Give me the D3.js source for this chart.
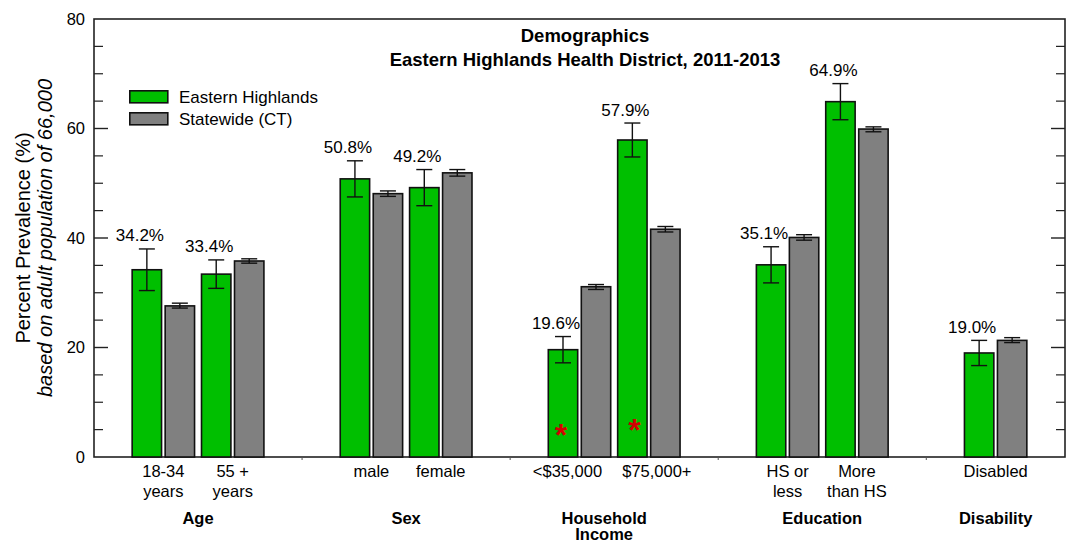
<!DOCTYPE html>
<html>
<head>
<meta charset="utf-8">
<script src="https://cdn.jsdelivr.net/npm/d3@7"></script>
<style>
  body { margin: 0; background: #fff; }
  svg { display: block; font-family: "Liberation Sans", Arial, sans-serif; }
</style>
</head>
<body>
<svg id="chart" width="1068" height="542"></svg>
<script>
// Demographics: Eastern Highlands vs Statewide
const groups = ["Age", "Sex", "Household\nIncome", "Education", "Disability"];
const categories = ["18-34\nyears", "55 +\nyears", "male", "female", "<$35,000", "$75,000+", "HS or\nless", "More\nthan HS", "Disabled"];
const categoryGroup = ["Age", "Age", "Sex", "Sex", "Household\nIncome", "Household\nIncome", "Education", "Education", "Disability"];
const seriesNames = ["Eastern Highlands", "Statewide (CT)"];

const regionValues = [34.2, 33.4, 50.8, 49.2, 19.6, 57.9, 35.1, 64.9, 19.0];
const regionLow    = [30.4, 30.8, 47.5, 45.9, 17.2, 54.8, 31.8, 61.6, 16.7];
const regionHigh   = [38.0, 36.0, 54.1, 52.5, 22.0, 61.0, 38.4, 68.2, 21.3];
const stateValues  = [27.6, 35.8, 48.1, 51.9, 31.1, 41.6, 40.1, 59.9, 21.3];
const stateLow     = [27.2, 35.4, 47.6, 51.3, 30.6, 41.1, 39.6, 59.4, 20.9];
const stateHigh    = [28.1, 36.2, 48.6, 52.5, 31.5, 42.1, 40.6, 60.3, 21.8];
const significant  = [false, false, false, false, true, true, false, false, false];
const yTicks = [0, 20, 40, 60, 80];

const colors = ["#00bf00", "#808080"];

const svg = d3.select("#chart");
const pLeft = 94, pRight = 1065, pTop = 19, pBottom = 457;

// slot domain: categories with an empty slot between groups
const slots = [];
groups.forEach((g, gi) => {
  if (gi > 0) slots.push("gap" + gi);
  categories.forEach((c, i) => { if (categoryGroup[i] === g) slots.push(c); });
});

const x = d3.scaleBand().domain(slots).range([pLeft, pRight]).paddingInner(0).paddingOuter(0.5);
const y = d3.scaleLinear().domain([0, 80]).range([pBottom, pTop]);
const cx = c => x(c) + x.bandwidth() / 2;

// small per-label nudges seen in the original
const labelShift = { "<$35,000": -12, "$75,000+": 8 };
const groupShift = { "Household\nIncome": -10 };
const starLift = [0, 5];

// frame
svg.append("rect")
  .attr("x", pLeft).attr("y", pTop)
  .attr("width", pRight - pLeft).attr("height", pBottom - pTop)
  .attr("fill", "none").attr("stroke", "#222").attr("stroke-width", 1.6);

// y ticks (inward, both sides), minor every 5
const minor = d3.range(5, 80, 5).filter(v => v % 20 !== 0);
[pLeft, pRight].forEach((ax, k) => {
  const dir = k === 0 ? 1 : -1;
  svg.append("g").selectAll("line").data(yTicks.filter(v => v > 0 && v < 80)).enter().append("line")
    .attr("x1", ax).attr("x2", ax + dir * 14)
    .attr("y1", d => y(d)).attr("y2", d => y(d))
    .attr("stroke", "#222").attr("stroke-width", 1.4);
  svg.append("g").selectAll("line").data(minor).enter().append("line")
    .attr("x1", ax).attr("x2", ax + dir * 9)
    .attr("y1", d => y(d)).attr("y2", d => y(d))
    .attr("stroke", "#222").attr("stroke-width", 1.2);
});

svg.append("g").selectAll("text").data(yTicks).enter().append("text")
  .attr("x", pLeft - 9).attr("y", d => y(d))
  .attr("dy", "0.35em")
  .attr("text-anchor", "end")
  .style("font-size", "16.5px")
  .text(d => d);

// small separator ticks on the baseline
svg.append("g").selectAll("line").data(slots.filter(s => s.startsWith("gap"))).enter().append("line")
  .attr("x1", d => cx(d)).attr("x2", d => cx(d))
  .attr("y1", pBottom).attr("y2", pBottom + 3)
  .attr("stroke", "#555").attr("stroke-width", 1);

// y title
const yt = svg.append("g").attr("transform", `translate(0,${(pTop + pBottom) / 2}) rotate(-90)`);
yt.append("text").attr("x", 0).attr("y", 30).attr("text-anchor", "middle")
  .style("font-size", "20px").text("Percent Prevalence (%)");
yt.append("text").attr("x", 0).attr("y", 52).attr("text-anchor", "middle")
  .style("font-size", "20px").style("font-style", "italic")
  .text("based on adult population of 66,000");

// bars
const series = [
  { vals: regionValues, lo: regionLow, hi: regionHigh, off: -32 },
  { vals: stateValues, lo: stateLow, hi: stateHigh, off: 1 }
];
const barW = 31;

series.forEach((s, si) => {
  const g = svg.append("g");
  const rows = categories.map((c, i) => ({ c, v: s.vals[i], lo: s.lo[i], hi: s.hi[i], i }));
  g.selectAll("rect").data(rows).enter().append("rect")
    .attr("x", d => cx(d.c) + s.off + 0.8)
    .attr("width", barW - 1.6)
    .attr("y", d => y(d.v))
    .attr("height", d => y(0) - y(d.v))
    .attr("fill", colors[si])
    .attr("stroke", "#111").attr("stroke-width", 1.6);

  const mid = d => cx(d.c) + s.off + barW / 2;
  const eb = g.selectAll("g.err").data(rows).enter().append("g").attr("class", "err")
    .attr("stroke", "#111").attr("stroke-width", 1.4);
  eb.append("line").attr("x1", mid).attr("x2", mid)
    .attr("y1", d => y(d.lo)).attr("y2", d => y(d.hi));
  eb.append("line").attr("x1", d => mid(d) - 8).attr("x2", d => mid(d) + 8)
    .attr("y1", d => y(d.hi)).attr("y2", d => y(d.hi));
  eb.append("line").attr("x1", d => mid(d) - 8).attr("x2", d => mid(d) + 8)
    .attr("y1", d => y(d.lo)).attr("y2", d => y(d.lo));

  if (si === 0) {
    g.selectAll("text.val").data(rows).enter().append("text").attr("class", "val")
      .attr("x", d => mid(d) - 7)
      .attr("y", d => y(d.hi) - 7.5)
      .attr("text-anchor", "middle")
      .style("font-size", "17px")
      .text(d => d.v.toFixed(1) + "%");

    g.selectAll("text.star").data(rows.filter(d => significant[d.i])).enter().append("text")
      .attr("class", "star")
      .attr("x", (d, k) => mid(d) + (k === 0 ? -2 : 2))
      .attr("y", (d, k) => 446 - starLift[k])
      .attr("text-anchor", "middle")
      .style("font-size", "32px").style("font-weight", "bold")
      .attr("fill", "#d40000")
      .text("*");
  }
});

// category labels
categories.forEach(c => {
  const t = svg.append("text")
    .attr("text-anchor", "middle")
    .style("font-size", "16.5px");
  c.split("\n").forEach((line, li) => {
    t.append("tspan").attr("x", cx(c) + (labelShift[c] || 0)).attr("y", 477 + li * 20).text(line);
  });
});

// group labels
groups.forEach(g => {
  const cs = categories.filter((c, i) => categoryGroup[i] === g);
  const gx = d3.mean(cs, cx) + (groupShift[g] || 0);
  const t = svg.append("text")
    .attr("text-anchor", "middle")
    .style("font-size", "16.5px").style("font-weight", "bold");
  g.split("\n").forEach((line, li) => {
    t.append("tspan").attr("x", gx).attr("y", 524 + li * 16).text(line);
  });
});

// title
svg.append("text").attr("x", 585).attr("y", 42).attr("text-anchor", "middle")
  .style("font-size", "18.5px").style("font-weight", "bold").text("Demographics");
svg.append("text").attr("x", 585).attr("y", 66).attr("text-anchor", "middle")
  .style("font-size", "18.5px").style("font-weight", "bold")
  .text("Eastern Highlands Health District, 2011-2013");

// legend
const legend = svg.append("g").attr("transform", "translate(129,90)");
seriesNames.forEach((n, i) => {
  legend.append("rect")
    .attr("x", 0.8).attr("y", i * 22 + 0.8)
    .attr("width", 38).attr("height", 12)
    .attr("fill", colors[i]).attr("stroke", "#111").attr("stroke-width", 1.6);
  legend.append("text")
    .attr("x", 50).attr("y", i * 22 + 13)
    .style("font-size", "17px")
    .text(n);
});
</script>
</body>
</html>
